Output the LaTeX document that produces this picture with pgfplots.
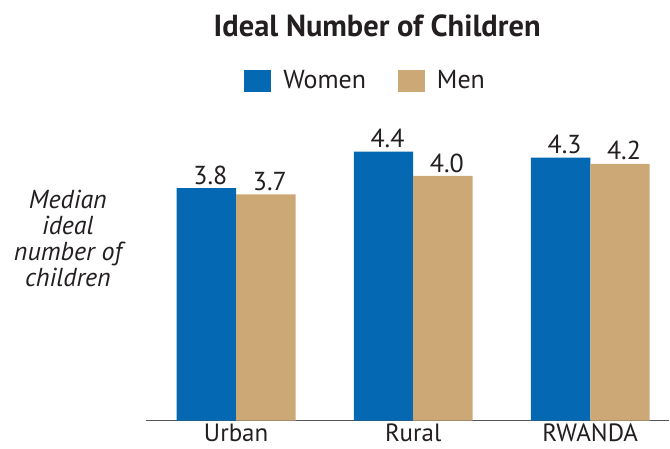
\documentclass[border=0pt]{standalone}
\usepackage{fontspec}
\setmainfont{PT Sans}
\usepackage{pgfplots}
\pgfplotsset{compat=1.18}
\definecolor{women}{HTML}{0568B3}
\definecolor{men}{HTML}{CDA877}
\definecolor{base}{HTML}{555555}
\definecolor{ink}{HTML}{231F20}
\begin{document}
\begin{tikzpicture}
  \path (-146pt,-28pt) rectangle (524pt,421pt);
  \begin{axis}[
    at={(0,0)}, anchor=south west,
    scale only axis, width=524pt, height=306pt,
    xmin=-0.51, xmax=2.446, ymin=0, ymax=5,
    ybar=0pt, bar width=59.5pt,
    axis y line=none, axis x line*=bottom,
    x axis line style={base, line width=1.5pt},
    xtick=data, xticklabels={Urban, Rural, RWANDA},
    major tick length=0pt,
    xticklabel style={font=\fontsize{25}{25}\selectfont, text=ink, anchor=base,
      inner sep=0pt, yshift=-21.5pt},
    nodes near coords,
    nodes near coords style={font=\fontsize{26}{26}\selectfont, text=ink,
      anchor=base, inner sep=0pt, yshift=4pt, xshift=4pt,
      /pgf/number format/fixed, /pgf/number format/fixed zerofill,
      /pgf/number format/precision=1, /pgf/number format/assume math mode=true},
    clip=false,
    legend columns=2,
    legend style={draw=none, fill=none, at={(0.418,1.112)}, anchor=center,
      font=\fontsize{26}{26}\selectfont, text=ink,
      nodes={inner xsep=0pt},
      /tikz/every odd column/.append style={column sep=12pt},
      /tikz/every even column/.append style={column sep=32pt}},
    legend image code/.code={\fill[#1] (0pt,-11pt) rectangle (27pt,11pt);},
  ]
    \addplot[fill=women, draw=none] coordinates {(0,3.8) (1,4.4) (2,4.3)};
    \addlegendentry{Women}
    \addplot[fill=men, draw=none] coordinates {(0,3.7) (1,4.0) (2,4.2)};
    \addlegendentry{Men}
    \node[font=\bfseries\fontsize{30.5}{30.5}\selectfont, text=ink, anchor=base] at (axis description cs:0.442,1.258) {Ideal Number of Children};
    \node[font=\itshape\fontsize{26}{26}\selectfont, text=ink, align=center] at (axis description cs:-0.149,0.595) {Median\\ideal\\number of\\children};
  \end{axis}
\end{tikzpicture}
\end{document}
